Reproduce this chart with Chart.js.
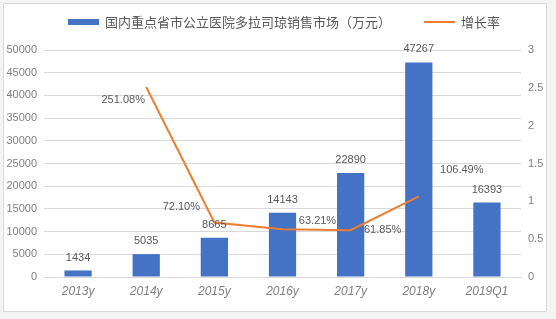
<!DOCTYPE html>
<html><head><meta charset="utf-8">
<script src="https://cdn.jsdelivr.net/npm/chart.js@4.4.1/dist/chart.umd.min.js"></script>
<style>html,body{margin:0;padding:0;background:#f4f4f4;}#wrap{width:556px;height:319px;position:relative;}</style>
</head><body><div id="wrap"><canvas id="c" width="556" height="319"></canvas></div>
<script>
const categories = ['2013y','2014y','2015y','2016y','2017y','2018y','2019Q1'];
const salesValues = [1434, 5035, 8665, 14143, 22890, 47267, 16393];
const growthValues = [null, 2.5108, 0.7210, 0.6321, 0.6185, 1.0649, null];
const salesLabel = '国内重点省市公立医院多拉司琼销售市场（万元）';
const growthLabel = '增长率';
const leftTicks = [0,5000,10000,15000,20000,25000,30000,35000,40000,45000,50000];
const rightTicks = [0,0.5,1,1.5,2,2.5,3];

const FONT = "'Liberation Sans','Noto Sans CJK SC',sans-serif";
const GRAY = '#595959';
const TICK = '#808080';
const BLUE = '#4472C4';
const ORANGE = '#ED7D31';

const framePlugin = {
  id: 'frame',
  beforeDraw(chart) {
    const ctx = chart.ctx;
    ctx.save();
    ctx.fillStyle = '#f4f4f4';
    ctx.fillRect(0, 0, chart.width, chart.height);
    ctx.fillStyle = '#ffffff';
    ctx.strokeStyle = '#d9d9d9';
    ctx.lineWidth = 1;
    ctx.beginPath();
    ctx.rect(3.5, 3.5, 543, 308);
    ctx.fill();
    ctx.stroke();
    ctx.restore();
  }
};

const legendPlugin = {
  id: 'customLegend',
  afterDraw(chart) {
    const ctx = chart.ctx;
    ctx.save();
    ctx.font = '13px ' + FONT;
    ctx.textBaseline = 'middle';
    const y = 22;
    const items = chart.data.datasets.map(d => ({text: d.label, type: d.type, color: d.type === 'line' ? d.borderColor : d.backgroundColor}));
    const boxW = 31, gap = 6, itemGap = 33;
    let total = 0;
    items.forEach((it, i) => { total += boxW + gap + ctx.measureText(it.text).width + (i ? itemGap : 0); });
    let x = 284 - total / 2;
    items.forEach((it, i) => {
      if (i) x += itemGap;
      if (it.type === 'line') {
        ctx.strokeStyle = it.color; ctx.lineWidth = 2;
        ctx.beginPath(); ctx.moveTo(x, y); ctx.lineTo(x + boxW, y); ctx.stroke();
      } else {
        ctx.fillStyle = it.color; ctx.fillRect(x, y - 3, boxW, 6);
      }
      x += boxW + gap;
      ctx.fillStyle = GRAY;
      ctx.textAlign = 'left';
      ctx.fillText(it.text, x, y + 1);
      x += ctx.measureText(it.text).width;
    });
    ctx.restore();
  }
};

const labelPlugin = {
  id: 'valueLabels',
  afterDatasetsDraw(chart, args, opts) {
    const ctx = chart.ctx;
    ctx.save();
    ctx.font = '11px ' + FONT;
    ctx.fillStyle = GRAY;
    ctx.textAlign = 'center';
    ctx.textBaseline = 'middle';
    const barMeta = chart.getDatasetMeta(0);
    barMeta.data.forEach((el, i) => {
      ctx.fillText(String(salesValues[i]), el.x, el.y - 13);
    });
    const lineMeta = chart.getDatasetMeta(1);
    lineMeta.data.forEach((el, i) => {
      const v = growthValues[i];
      if (v === null) return;
      const off = opts.lineOffsets[i] || [0, -12];
      ctx.fillText((v * 100).toFixed(2) + '%', el.x + off[0], el.y + off[1]);
    });
    ctx.restore();
  }
};

new Chart(document.getElementById('c'), {
  data: {
    labels: categories,
    datasets: [
      { type: 'bar', label: salesLabel, data: salesValues, yAxisID: 'y', backgroundColor: BLUE, categoryPercentage: 1, barPercentage: 0.4, order: 1 },
      { type: 'line', label: growthLabel, data: growthValues, yAxisID: 'y1', borderColor: ORANGE, backgroundColor: ORANGE, borderWidth: 2, pointRadius: 0, tension: 0, order: 0 }
    ]
  },
  options: {
    responsive: false,
    animation: false,
    events: [],
    layout: { padding: { top: 50, left: 0, right: 0, bottom: 0 } },
    plugins: {
      legend: { display: false },
      tooltip: { enabled: false },
      valueLabels: { lineOffsets: [null, [-23, 13], [-33, -15], [35, -8], [32, 0], [43, -26], null] }
    },
    scales: {
      x: {
        grid: { display: false, drawTicks: false },
        border: { display: true, color: '#d9d9d9' },
        ticks: { color: TICK, font: { family: FONT, size: 12, style: 'italic' }, padding: 7, maxRotation: 0, autoSkip: false },
        afterFit(s) { s.height = 42; }
      },
      y: {
        position: 'left', min: 0, max: 50000,
        afterBuildTicks(s) { s.ticks = leftTicks.map(v => ({value: v})); },
        grid: { color: '#d9d9d9', drawTicks: false },
        border: { display: false },
        ticks: { color: TICK, font: { family: FONT, size: 11 }, padding: 7, callback: v => String(v) },
        afterFit(s) { s.width = 44; }
      },
      y1: {
        position: 'right', min: 0, max: 3,
        afterBuildTicks(s) { s.ticks = rightTicks.map(v => ({value: v})); },
        grid: { display: false, drawTicks: false },
        border: { display: false },
        ticks: { color: TICK, font: { family: FONT, size: 11 }, padding: 7, callback: v => String(v) },
        afterFit(s) { s.width = 35; }
      }
    }
  },
  plugins: [framePlugin, legendPlugin, labelPlugin]
});
</script>
</body></html>
